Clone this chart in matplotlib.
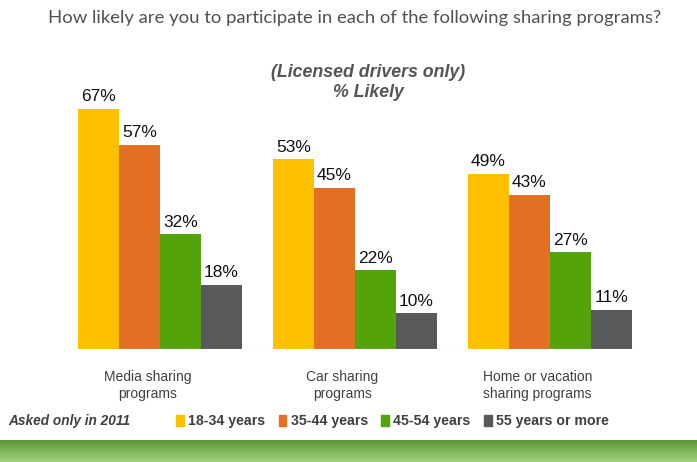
import matplotlib.pyplot as plt
import numpy as np
from matplotlib.patches import Patch

categories = ['Media sharing\nprograms', 'Car sharing\nprograms', 'Home or vacation\nsharing programs']
age_groups = ['18-34 years', '35-44 years', '45-54 years', '55 years or more']
values = {
    '18-34 years': [67, 53, 49],
    '35-44 years': [57, 45, 43],
    '45-54 years': [32, 22, 27],
    '55 years or more': [18, 10, 11],
}
colors = ['#FFC000', '#E36F22', '#55A30B', '#58595B']

fig = plt.figure(figsize=(6.97, 4.62), dpi=100)
ax = fig.add_axes([0, 113 / 462, 1, 286.4 / 462])

x = np.arange(len(categories))
width = 41 / 195
for i, grp in enumerate(age_groups):
    pos = x + (i - 1.5) * width
    bars = ax.bar(pos, values[grp], width, color=colors[i], label=grp)
    for b, v in zip(bars, values[grp]):
        ax.text(b.get_x() + b.get_width() / 2, v + 1.3, f'{v}%', ha='center', va='bottom',
                fontsize=12.5, color='#111111', family='Liberation Sans')

ax.set_xlim(-160 / 195, (697 - 160) / 195)
ax.set_ylim(0, 80)
ax.axis('off')
ax.axhline(0, xmin=0.105, xmax=0.915, color='#e6e6e6', lw=0.8)

for xi, cat in zip(x, categories):
    ax.text(xi - 0.065, -6.0, cat, ha='center', va='top', fontsize=10, color='#404040',
            family='Liberation Sans', linespacing=1.2)

fig.text(0.509, 0.962, 'How likely are you to participate in each of the following sharing programs?',
         ha='center', va='center', fontsize=13.3, color='#505050', family='Lato')
fig.text(0.528, 0.822, '(Licensed drivers only)\n% Likely', ha='center', va='center',
         fontsize=12.8, color='#555555', family='Liberation Sans', style='italic',
         weight='bold', linespacing=1.25)

fig.text(0.012, 0.088, 'Asked only in 2011', ha='left', va='center', fontsize=9.8,
         color='#404040', family='Liberation Sans', style='italic', weight='bold')
handles = [Patch(color=c, label=g) for c, g in zip(colors, age_groups)]
leg = fig.legend(handles=handles, loc='center', bbox_to_anchor=(0.563, 0.088), ncol=4,
                 frameon=False, handlelength=0.55, handleheight=0.8, handletextpad=0.3,
                 columnspacing=0.95, prop={'family': 'Liberation Sans', 'weight': 'bold', 'size': 10.2})
for t in leg.get_texts():
    t.set_color('#404040')

# grass strip at the bottom
grass = fig.add_axes([0, 0, 1, 22 / 462])
grad = np.linspace(0, 1, 50).reshape(-1, 1)
grass.imshow(grad, aspect='auto', cmap=plt.matplotlib.colors.LinearSegmentedColormap.from_list(
    'g', ['#5a9a35', '#a4cf80']), extent=[0, 1, 0, 1])
grass.axis('off')

fig.savefig('out.png', dpi=100)
